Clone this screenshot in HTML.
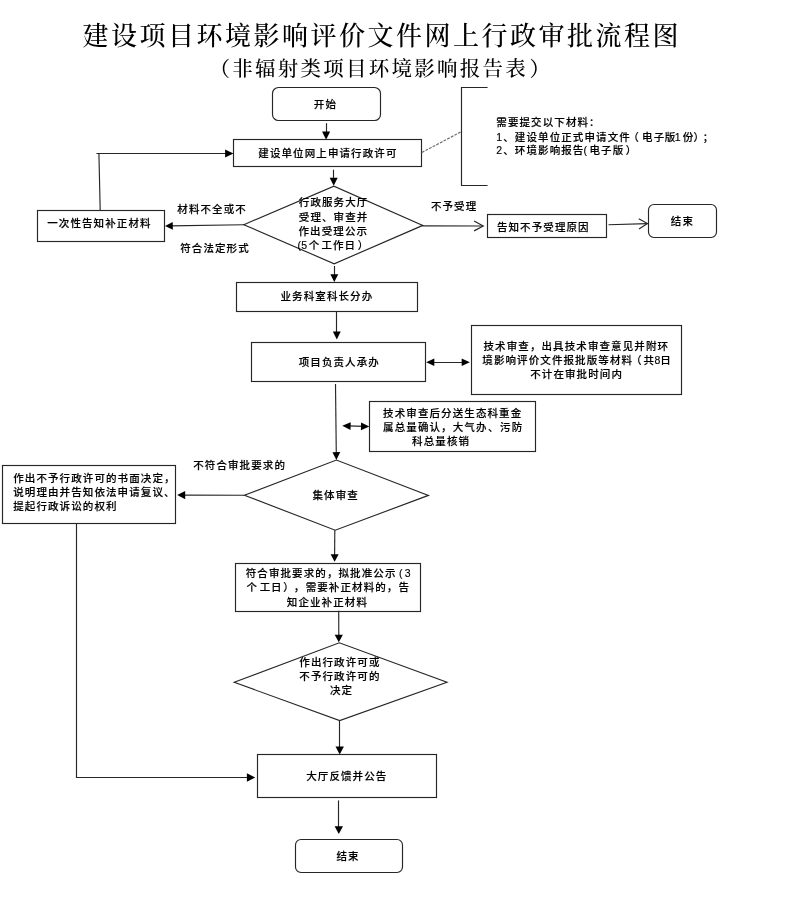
<!DOCTYPE html>
<html lang="zh-CN">
<head>
<meta charset="utf-8">
<title>建设项目环境影响评价文件网上行政审批流程图</title>
<style>
html,body{margin:0;padding:0;background:#fff;}
body{width:793px;height:907px;overflow:hidden;}
svg{display:block;will-change:transform;filter:grayscale(1);}
.s{fill:none;stroke:#262626;stroke-width:1.15;}
.f{fill:#000;stroke:none;}
.d{fill:none;stroke:#707070;stroke-width:1.2;stroke-dasharray:2.9 1.2;}
.t{font-family:"Liberation Sans", "Noto Sans CJK SC", sans-serif;fill:#000;text-spacing-trim:space-all;font-weight:500;stroke:#000;stroke-width:0.15px;}
.h{font-family:"Liberation Serif", "Noto Serif CJK SC", serif;fill:#000;}
.hb{font-weight:500;}
</style>
</head>
<body>
<svg width="793" height="907" viewBox="0 0 793 907">
<rect x="0" y="0" width="793" height="907" fill="#ffffff"/>
<rect x="272.5" y="87.5" width="108.00" height="33.00" rx="6" ry="6" class="s"/>
<line x1="326.5" y1="123.2" x2="326.5" y2="135" class="s"/>
<polygon points="326.10,139.80 322.05,131.50 330.15,131.50" class="f"/>
<rect x="233.5" y="139.5" width="188.00" height="27.00" rx="0" ry="0" class="s"/>
<line x1="421.8" y1="152.5" x2="461.5" y2="131.6" class="d"/>
<polyline points="487.6,87.5 461.5,87.5 461.5,185.5 487.6,185.5" class="s"/>
<rect x="37.5" y="210.5" width="127.00" height="31.00" rx="0" ry="0" class="s"/>
<line x1="100.2" y1="210.6" x2="98.9" y2="153.3" class="s"/>
<line x1="96.4" y1="153.5" x2="228" y2="153.5" class="s"/>
<polygon points="233.40,153.50 225.10,157.40 225.10,149.60" class="f"/>
<polygon points="243.8,224.7 333.9,186.1 422.8,225.4 334.2,263.8" class="s"/>
<line x1="333.5" y1="169.7" x2="333.5" y2="181" class="s"/>
<polygon points="333.70,185.80 329.70,177.80 337.70,177.80" class="f"/>
<line x1="243.8" y1="224.7" x2="170" y2="225.9" class="s"/>
<polygon points="165.00,226.00 172.74,222.08 172.86,229.68" class="f"/>
<line x1="422.5" y1="225.8" x2="483.2" y2="226" class="s"/>
<polyline points="474.08,230.87 483.20,226.00 474.12,221.07" class="s"/>
<rect x="487.5" y="214.5" width="119.00" height="23.00" rx="0" ry="0" class="s"/>
<line x1="608.5" y1="224.7" x2="647.4" y2="223.6" class="s"/>
<polyline points="639.05,228.94 647.40,223.60 638.76,218.74" class="s"/>
<rect x="648.5" y="204.5" width="68.00" height="33.00" rx="5.5" ry="5.5" class="s"/>
<line x1="334.5" y1="266" x2="334.5" y2="277" class="s"/>
<polygon points="334.30,282.00 330.35,274.20 338.25,274.20" class="f"/>
<rect x="236.5" y="282.5" width="181.00" height="29.00" rx="0" ry="0" class="s"/>
<line x1="336.5" y1="311.9" x2="336.5" y2="334" class="s"/>
<polygon points="336.80,339.50 332.85,331.50 340.75,331.50" class="f"/>
<rect x="251.5" y="342.5" width="174.00" height="39.00" rx="0" ry="0" class="s"/>
<line x1="431" y1="362.5" x2="465" y2="362.5" class="s"/>
<polygon points="426.20,362.20 434.30,358.40 434.30,366.00" class="f"/>
<polygon points="469.80,362.20 461.70,366.00 461.70,358.40" class="f"/>
<rect x="471.5" y="325.5" width="210.00" height="69.00" rx="0" ry="0" class="s"/>
<line x1="335.5" y1="384.1" x2="336.3" y2="455" class="s"/>
<polygon points="336.40,459.90 332.42,452.14 340.22,452.06" class="f"/>
<line x1="347" y1="425.9" x2="365" y2="426.4" class="s"/>
<polygon points="342.30,425.80 350.71,422.19 350.49,429.88" class="f"/>
<polygon points="369.30,426.50 360.90,430.13 361.10,422.44" class="f"/>
<rect x="369.5" y="401.5" width="166.00" height="50.00" rx="0" ry="0" class="s"/>
<polygon points="244.4,495.2 336.4,460 428.4,495.4 335.2,530.2" class="s"/>
<line x1="244.4" y1="495.2" x2="182" y2="495.1" class="s"/>
<polygon points="177.20,495.10 185.20,491.00 185.20,499.20" class="f"/>
<rect x="2.5" y="465.5" width="173.00" height="58.00" rx="0" ry="0" class="s"/>
<polyline points="76.5,523.9 76.5,777.5 250,777.5" class="s"/>
<polygon points="255.20,777.50 246.90,781.80 246.90,773.20" class="f"/>
<line x1="334.8" y1="530.2" x2="334.6" y2="557" class="s"/>
<polygon points="334.60,561.80 330.65,554.17 338.65,554.23" class="f"/>
<rect x="235.5" y="563.5" width="185.00" height="48.00" rx="0" ry="0" class="s"/>
<line x1="338.7" y1="610.7" x2="338.8" y2="638" class="s"/>
<polygon points="338.80,642.30 334.68,634.81 342.88,634.79" class="f"/>
<polygon points="234.2,682.3 339.3,642.8 447,682.3 339.7,720.6" class="s"/>
<line x1="339.5" y1="720.6" x2="339.5" y2="750" class="s"/>
<polygon points="339.70,754.40 335.50,746.60 343.90,746.60" class="f"/>
<rect x="257.5" y="754.5" width="179.00" height="43.00" rx="0" ry="0" class="s"/>
<line x1="338.5" y1="800.4" x2="338.5" y2="830" class="s"/>
<polygon points="338.80,834.00 334.60,826.20 343.00,826.20" class="f"/>
<rect x="295.5" y="839.5" width="107.00" height="33.00" rx="5.5" ry="5.5" class="s"/>
<text x="82.6" y="44.80" class="h hb" font-size="26" letter-spacing="2.5">建设项目环境影响评价文件网上行政审批流程图</text>
<text x="209.6" y="75.80" class="h hb" font-size="20.5" letter-spacing="2.25">（非辐射类项目环境影响报告表<tspan dx="1.5">）</tspan></text>
<text x="313.8" y="107.89" class="t" font-size="10.5" letter-spacing="1.1">开始</text>
<text x="258.3" y="156.99" class="t" font-size="10.5" letter-spacing="1.1">建设单位网上申请行政许可</text>
<text x="496.3" y="125.99" class="t" font-size="10.5" letter-spacing="1.1">需要提交以下材料：</text>
<text x="496.3" y="140.89" class="t" font-size="10.5" letter-spacing="1.1">1、建设单位正式申请文件<tspan dx="-2.5">（</tspan><tspan dx="2.1">电</tspan>子<tspan dx="-0.6">版</tspan><tspan dx="-1.5">1</tspan><tspan dx="1">份</tspan><tspan dx="-0.8">）</tspan><tspan dx="-2.4">；</tspan></text>
<text x="496.3" y="154.49" class="t" font-size="10.5" letter-spacing="1.1">2、环境影响报告<tspan dx="-1">(</tspan><tspan dx="1.4">电</tspan>子版<tspan dx="1.5">）</tspan></text>
<text x="47.2" y="226.79" class="t" font-size="10.5" letter-spacing="1.1">一次性告知补正材料</text>
<text x="177.3" y="213.39" class="t" font-size="10.5" letter-spacing="1.1">材料不全或不</text>
<text x="180.2" y="252.29" class="t" font-size="10.5" letter-spacing="1.1">符合法定形式</text>
<text x="298.8" y="206.19" class="t" font-size="10.5" letter-spacing="1.1">行政服务大厅</text>
<text x="298.8" y="221.29" class="t" font-size="10.5" letter-spacing="1.1">受理、审查并</text>
<text x="298.5" y="235.39" class="t" font-size="10.5" letter-spacing="1.1">作出受理公示</text>
<text x="297.6" y="249.29" class="t" font-size="10.5" letter-spacing="1.1">(<tspan dx="-1">5</tspan><tspan dx="0.5">个</tspan><tspan dx="1.2">工</tspan><tspan dx="-0.2">作</tspan>日<tspan dx="1.7">）</tspan></text>
<text x="430.9" y="209.99" class="t" font-size="10.5" letter-spacing="1.1">不予受理</text>
<text x="496.9" y="230.89" class="t" font-size="10.5" letter-spacing="1.1">告知不予受理原因</text>
<text x="670.8" y="224.99" class="t" font-size="10.5" letter-spacing="1.1">结束</text>
<text x="280.5" y="300.49" class="t" font-size="10.5" letter-spacing="1.1">业务科室科长分办</text>
<text x="298.7" y="365.99" class="t" font-size="10.5" letter-spacing="1.1">项目负责人承办</text>
<text x="483.5" y="349.69" class="t" font-size="10.5" letter-spacing="1.1">技术审查，出具技术审查意见并附环</text>
<text x="482.3" y="364.29" class="t" font-size="10.5" letter-spacing="1.1">境影响评价文件报批版等材料<tspan dx="-2.2">（</tspan><tspan dx="1">共</tspan><tspan dx="-0.7">8</tspan><tspan dx="-1.2">日</tspan></text>
<text x="530.2" y="378.49" class="t" font-size="10.5" letter-spacing="1.1">不计在审批时间内</text>
<text x="383.1" y="416.79" class="t" font-size="10.5" letter-spacing="1.1">技术审查后分送生态科重金</text>
<text x="383.1" y="431.19" class="t" font-size="10.5" letter-spacing="1.1">属总量确认，大气办<tspan dx="0.5">、</tspan><tspan dx="0.5">污</tspan>防</text>
<text x="412.1" y="444.99" class="t" font-size="10.5" letter-spacing="1.1">科总量核销</text>
<text x="193.2" y="468.79" class="t" font-size="10.5" letter-spacing="1.1">不符合审批要求的</text>
<text x="312.5" y="499.39" class="t" font-size="10.5" letter-spacing="1.1">集体审查</text>
<text x="13.2" y="481.59" class="t" font-size="10.5" letter-spacing="1.1">作出不予行政许可的书面决定，</text>
<text x="13.2" y="495.99" class="t" font-size="10.5" letter-spacing="1.1">说明理由并告知依法申请复议、</text>
<text x="13.2" y="510.09" class="t" font-size="10.5" letter-spacing="1.1">提起行政诉讼的权利</text>
<text x="245.7" y="576.89" class="t" font-size="10.5" letter-spacing="1.1">符合审批要求的，拟批准公示<tspan dx="2.5">(</tspan><tspan dx="1.1">3</tspan></text>
<text x="246.6" y="591.09" class="t" font-size="10.5" letter-spacing="1.1">个<tspan dx="1.5">工</tspan><tspan dx="-0.3">日</tspan><tspan dx="0.7">）</tspan><tspan dx="-1.2">，</tspan><tspan dx="0.3">需</tspan>要补正材料的，告</text>
<text x="286.8" y="605.69" class="t" font-size="10.5" letter-spacing="1.1">知企业补正材料</text>
<text x="299.3" y="665.79" class="t" font-size="10.5" letter-spacing="1.1">作出行政许可或</text>
<text x="299.3" y="679.59" class="t" font-size="10.5" letter-spacing="1.1">不予行政许可的</text>
<text x="330" y="694.19" class="t" font-size="10.5" letter-spacing="1.1">决定</text>
<text x="306.2" y="779.99" class="t" font-size="10.5" letter-spacing="1.1">大厅反馈并公告</text>
<text x="336.5" y="859.59" class="t" font-size="10.5" letter-spacing="1.1">结束</text>
</svg>
</body>
</html>
